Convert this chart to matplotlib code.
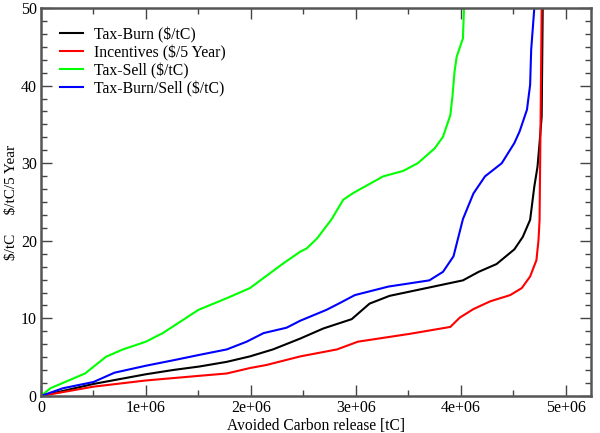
import numpy as np
import matplotlib.pyplot as plt
from matplotlib.ticker import MultipleLocator

# values (x in tC, y in $/tC)
burn_x = [0, 0.50e6, 1.0e6, 1.26e6, 1.51e6, 1.77e6, 1.99e6, 2.21e6, 2.47e6, 2.69e6, 2.96e6,
          3.13e6, 3.32e6, 3.74e6, 4.02e6, 4.17e6, 4.34e6, 4.51e6, 4.59e6, 4.66e6, 4.70e6,
          4.73e6, 4.75e6, 4.77e6, 4.78e6]
burn_y = [0, 1.55, 2.8, 3.35, 3.8, 4.4, 5.1, 6.0, 7.4, 8.7, 9.9,
          11.9, 12.9, 14.1, 14.9, 16.0, 17.0, 18.9, 20.5, 22.7, 27.0,
          29.5, 32.6, 36.0, 50]

inc_x = [0, 0.50e6, 1.0e6, 1.51e6, 1.77e6, 1.99e6, 2.15e6, 2.47e6, 2.82e6, 3.02e6, 3.51e6,
         3.90e6, 3.99e6, 4.12e6, 4.28e6, 4.47e6, 4.58e6, 4.66e6, 4.72e6, 4.74e6, 4.75e6,
         4.76e6, 4.77e6]
inc_y = [0, 1.2, 2.0, 2.6, 2.9, 3.6, 4.0, 5.1, 6.0, 7.0, 8.0,
         8.9, 10.1, 11.2, 12.2, 13.0, 13.9, 15.4, 17.5, 20.1, 22.7,
         36.0, 50]

sell_x = [0, 0.09e6, 0.42e6, 0.62e6, 0.78e6, 1.0e6, 1.16e6, 1.5e6, 1.77e6, 1.99e6, 2.12e6,
          2.31e6, 2.47e6, 2.53e6, 2.63e6, 2.77e6, 2.88e6, 2.98e6, 3.26e6, 3.45e6, 3.59e6,
          3.75e6, 3.83e6, 3.90e6, 3.92e6, 3.94e6, 3.96e6, 4.02e6, 4.03e6]
sell_y = [0, 1.0, 2.9, 5.06, 6.0, 7.0, 8.1, 11.1, 12.6, 13.9, 15.2,
          17.1, 18.6, 19.0, 20.3, 22.8, 25.3, 26.2, 28.3, 29.0, 30.0,
          31.9, 33.4, 36.2, 38.6, 41.8, 43.7, 46.1, 50]

bs_x = [0, 0.21e6, 0.50e6, 0.70e6, 1.0e6, 1.26e6, 1.51e6, 1.77e6, 1.96e6, 2.12e6, 2.34e6,
        2.47e6, 2.72e6, 2.85e6, 2.99e6, 3.31e6, 3.70e6, 3.83e6, 3.93e6, 4.02e6, 4.12e6,
        4.23e6, 4.39e6, 4.51e6, 4.56e6, 4.63e6, 4.66e6, 4.67e6, 4.70e6]
bs_y = [0, 1.0, 1.8, 3.0, 3.9, 4.6, 5.3, 6.0, 7.0, 8.1, 8.8,
        9.7, 11.1, 12.0, 13.0, 14.1, 14.9, 16.0, 18.0, 22.8, 26.1,
        28.3, 30.0, 32.6, 34.1, 36.9, 40.1, 44.6, 50]

FONT = 'Liberation Serif'
plt.rcParams['font.family'] = [FONT, 'DejaVu Serif']

fig = plt.figure(figsize=(6, 4.33), dpi=100)
ax = fig.add_axes([0.0683, 0.0855, 0.9167, 0.896])

ax.plot(burn_x, burn_y, color='black', lw=1.5, label='Tax-Burn ($/tC)')
ax.plot(inc_x, inc_y, color='#ff0000', lw=1.5, label='Incentives ($/5 Year)')
ax.plot(sell_x, sell_y, color='#00ff00', lw=1.5, label='Tax-Sell ($/tC)')
ax.plot(bs_x, bs_y, color='#0000ff', lw=1.5, label='Tax-Burn/Sell ($/tC)')

ax.set_xlim(0, 5.24e6)
ax.set_ylim(0, 50)
ax.xaxis.set_major_locator(MultipleLocator(1e6))
ax.xaxis.set_minor_locator(MultipleLocator(0.5e6))
ax.yaxis.set_major_locator(MultipleLocator(10))
ax.yaxis.set_minor_locator(MultipleLocator(10 / 6))
ax.set_xticks([0, 1e6, 2e6, 3e6, 4e6, 5e6])
ax.set_xticklabels(['0', '1e+06', '2e+06', '3e+06', '4e+06', '5e+06'])

ax.tick_params(which='both', direction='in', top=True, right=True, labelsize=11.5, colors='#444444',
               labelcolor='black', pad=3)
ax.tick_params(which='major', length=8, width=1)
ax.tick_params(which='minor', length=4, width=1)
for s in ax.spines.values():
    s.set_color('#555555')
    s.set_linewidth(1.8)

ax.set_xlabel('Avoided Carbon release [tC]', fontsize=11.2, labelpad=1)
ax.set_ylabel(r'\$/tC     \$/tC/5 Year', fontsize=11, labelpad=2)

ax.legend(loc='upper left', frameon=False, fontsize=11.3, handlelength=1.45,
          borderaxespad=0.8, labelspacing=0.12, handletextpad=0.75)

fig.savefig('out.png', dpi=100)
